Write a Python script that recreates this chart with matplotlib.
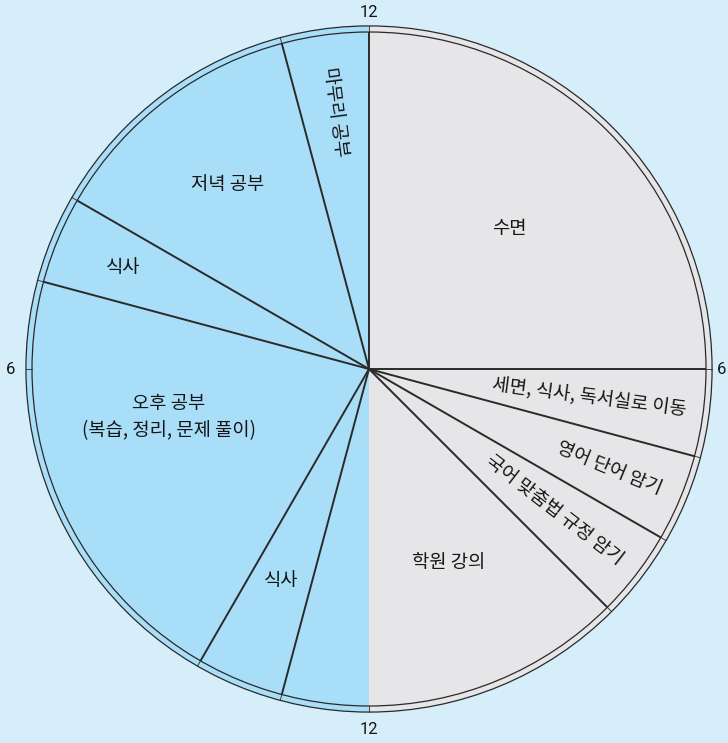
import numpy as np
import matplotlib.pyplot as plt
from matplotlib.patches import Wedge, Circle

plt.rcParams['font.family'] = ['Noto Sans CJK KR', 'DejaVu Sans']

# 24h daily schedule (hours, clockwise from midnight at top)
labels = ['수면', '세면, 식사, 독서실로 이동', '영어 단어 암기', '국어 맞춤법 규정 암기',
          '학원 강의', '', '식사', '오후 공부\n(복습, 정리, 문제 풀이)', '식사', '저녁 공부', '마무리 공부']
start_hours = [0, 6, 7, 8, 9, 12, 13, 14, 19, 20, 23]
durations = [6, 1, 1, 1, 3, 1, 1, 5, 1, 3, 1]
clock_ticks = ['12', '6', '12', '6']
clock_hours = [0, 6, 12, 18]
clock_radius = [1.059, 1.047, 1.071, 1.065]

# label placement (hour angle, radius fraction, rotation)
label_hours = [3, 6.5, 7.5, 8.5, 10.5, 12.5, 13.5, 17.1, 19.5, 21.5, 23.5]
label_radius = [0.59, 0.66, 0.77, 0.69, 0.62, 0.7, 0.68, 0.61, 0.79, 0.69, 0.77]
label_rot = [0, -7.5, -22.5, -37.5, 0, 0, 0, 0, 0, 0, -82.5]

bg = '#d6eefa'
blue = '#a9def8'
gray = '#e6e6e8'
ink = '#2a2a2a'
colors = [gray if h < 12 else blue for h in start_hours]


def ang(h):
    return 90 - h * 15


fig = plt.figure(figsize=(7.28, 7.43), dpi=100, facecolor=bg)
ax = fig.add_axes([0, 0, 1, 1])
ax.set_facecolor(bg)
R = 337.0
cx, cy = 369.0, 369.0
ax.set_xlim(-cx / R, (728 - cx) / R)
ax.set_ylim(-(743 - cy) / R, cy / R)
ax.set_aspect('equal')
ax.axis('off')

ring = 1.018
for s, d, c in zip(start_hours, durations, colors):
    ax.add_patch(Wedge((0, 0), ring, ang(s + d), ang(s), facecolor=c, edgecolor='none'))

# circles
ax.add_patch(Circle((0, 0), 1.0, fill=False, edgecolor=ink, lw=0.9))
ax.add_patch(Circle((0, 0), ring, fill=False, edgecolor=ink, lw=0.9))

# radial boundary lines
for s in start_hours:
    t = np.radians(ang(s))
    if s != 12:
        ax.plot([0, np.cos(t)], [0, np.sin(t)], color=ink, lw=1.4, solid_capstyle='butt')
    ax.plot([np.cos(t), ring * np.cos(t)], [np.sin(t), ring * np.sin(t)], color=ink, lw=0.6)
for h in [18]:
    t = np.radians(ang(h))
    ax.plot([np.cos(t), ring * np.cos(t)], [np.sin(t), ring * np.sin(t)], color=ink, lw=0.6)

# labels
for lab, h, r, rot in zip(labels, label_hours, label_radius, label_rot):
    if not lab:
        continue
    t = np.radians(ang(h))
    ax.text(r * np.cos(t), r * np.sin(t), lab, ha='center', va='center', rotation=rot,
            rotation_mode='anchor', fontsize=13.5, color='#151515', linespacing=1.4)

# clock numbers
for lab, h, rr in zip(clock_ticks, clock_hours, clock_radius):
    t = np.radians(ang(h))
    ax.text(rr * np.cos(t), rr * np.sin(t), lab, ha='center', va='center',
            fontsize=12, color='#151515', family=['Roboto', 'DejaVu Sans'])

fig.savefig('out.png', dpi=100, facecolor=bg)
